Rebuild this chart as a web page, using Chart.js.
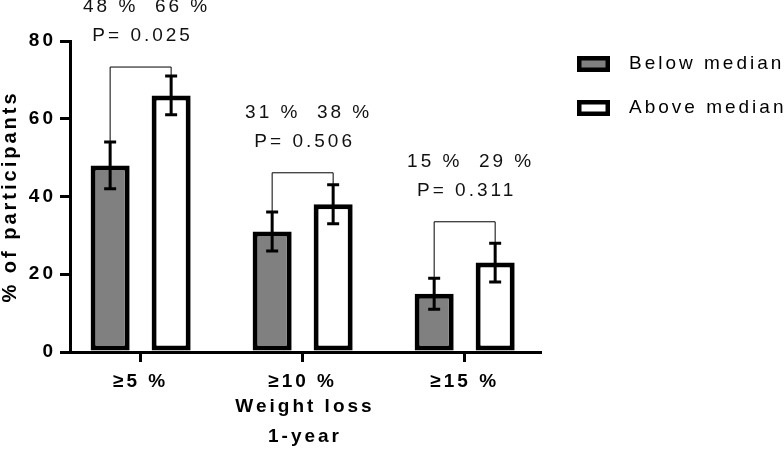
<!DOCTYPE html>
<html>
<head>
<meta charset="utf-8">
<script src="https://cdn.jsdelivr.net/npm/chart.js@4/dist/chart.umd.min.js"></script>
<style>
  html, body { margin: 0; padding: 0; background: #fff; }
  #wrap { width: 784px; height: 475px; }
</style>
</head>
<body>
<div id="wrap"><canvas id="chart"></canvas></div>
<script>
// ===== Data =====
const categories = ['\u22655 %', '\u226510 %', '\u226515 %'];
const seriesNames = ['Below median', 'Above median'];
const belowValues = [48, 31, 15];
const belowLow = [42, 26, 11];
const belowHigh = [54, 36, 19];
const aboveValues = [66, 38, 23];
const aboveLow = [61, 33, 18];
const aboveHigh = [71, 43, 28];
const belowPct = [48, 31, 15];
const abovePct = [66, 38, 29];
const pValues = ['0.025', '0.506', '0.311'];
const bracketLevel = [73.3, 46.1, 33.5];
const yTicks = [0, 20, 40, 60, 80];

const FONT = "'Liberation Sans', Arial, Helvetica, sans-serif";
const SPACING = '3px';

// ===== Letter spacing (canvas state resets on resize) =====
const spacing = {
    id: 'spacing',
    beforeUpdate(c) { c.ctx.letterSpacing = SPACING; },
    beforeDraw(c) { c.ctx.letterSpacing = SPACING; }
};

// ===== Error bars, brackets, p-values, legend =====
const extras = {
    id: 'extras',
    afterDatasetsDraw(c) {
        const ctx = c.ctx, y = c.scales.y, x = c.scales.x;
        const lows = [belowLow, aboveLow], highs = [belowHigh, aboveHigh];
        ctx.save();
        ctx.strokeStyle = '#000';
        ctx.lineWidth = 3;
        [0, 1].forEach(d => {
            c.getDatasetMeta(d).data.forEach((bar, i) => {
                const bx = bar.x;
                const top = y.getPixelForValue(highs[d][i]);
                const bot = y.getPixelForValue(lows[d][i]);
                ctx.beginPath();
                ctx.moveTo(bx, top); ctx.lineTo(bx, bot);
                ctx.moveTo(bx - 6, top); ctx.lineTo(bx + 6, top);
                ctx.moveTo(bx - 6, bot); ctx.lineTo(bx + 6, bot);
                ctx.stroke();
            });
        });

        const m0 = c.getDatasetMeta(0).data, m1 = c.getDatasetMeta(1).data;
        ctx.lineWidth = 1;
        ctx.fillStyle = '#111';
        ctx.font = '19px ' + FONT;
        ctx.textAlign = 'center';
        ctx.textBaseline = 'middle';
        ctx.letterSpacing = SPACING;
        categories.forEach((cat, i) => {
            const by = y.getPixelForValue(bracketLevel[i]);
            const x0 = m0[i].x, x1 = m1[i].x;
            ctx.beginPath();
            ctx.moveTo(x0, y.getPixelForValue(belowHigh[i]));
            ctx.lineTo(x0, by);
            ctx.lineTo(x1, by);
            ctx.lineTo(x1, y.getPixelForValue(aboveHigh[i]));
            ctx.stroke();
            const cx = x.getPixelForValue(i + 1);
            ctx.fillText(belowPct[i] + ' %  ' + abovePct[i] + ' %', cx + 6, by - 60);
            ctx.fillText('P= ' + pValues[i], cx + 2, by - 31);
        });

        // legend
        ctx.textAlign = 'left';
        seriesNames.forEach((name, d) => {
            const ly = 64 + d * 44;
            ctx.fillStyle = '#000';
            ctx.fillRect(577, ly - 8, 33, 16);
            ctx.fillStyle = c.data.datasets[d].backgroundColor;
            ctx.fillRect(581.5, ly - 3.5, 24, 7);
            ctx.fillStyle = '#000';
            ctx.fillText(name, 629, ly);
        });
        ctx.restore();
    }
};

// ===== Chart =====
const chart = new Chart(document.getElementById('chart'), {
    type: 'bar',
    data: {
        datasets: [
            {
                label: seriesNames[0],
                data: belowValues.map((v, i) => ({x: i + 1, y: v})),
                backgroundColor: '#808080',
                borderColor: '#000',
                borderWidth: 5,
                borderSkipped: false
            },
            {
                label: seriesNames[1],
                data: aboveValues.map((v, i) => ({x: i + 1, y: v})),
                backgroundColor: '#ffffff',
                borderColor: '#000',
                borderWidth: 5,
                borderSkipped: false
            }
        ]
    },
    options: {
        responsive: true,
        maintainAspectRatio: false,
        animation: false,
        layout: {padding: {top: 41, right: 244, left: 0, bottom: 0}},
        datasets: {bar: {categoryPercentage: 0.753, barPercentage: 0.64}},
        plugins: {legend: {display: false}, tooltip: {enabled: false}},
        scales: {
            x: {
                type: 'linear', min: 0.564, max: 3.465, offset: false,
                afterBuildTicks: s => { s.ticks = categories.map((c, i) => ({value: i + 1})); },
                afterFit: s => { s.height = 123; },
                grid: {drawOnChartArea: false, offset: false, color: '#000', lineWidth: 3, tickLength: 10},
                border: {color: '#000', width: 3},
                ticks: {
                    callback: (v, i) => categories[i],
                    font: {size: 19, weight: 'bold', family: FONT},
                    color: '#000', padding: 8, autoSkip: false, maxRotation: 0
                },
                title: {
                    display: true, text: ['Weight loss', '1-year'], color: '#000',
                    font: {size: 19, weight: 'bold', family: FONT, lineHeight: '30px'},
                    padding: {top: 0, bottom: 23}
                }
            },
            y: {
                min: 0, max: 80,
                afterBuildTicks: s => { s.ticks = yTicks.map(v => ({value: v})); },
                afterFit: s => { s.width = 70; },
                grid: {drawOnChartArea: false, color: '#000', lineWidth: 3, tickLength: 10},
                border: {color: '#000', width: 3},
                ticks: {font: {size: 19, weight: 'bold', family: FONT}, color: '#000', padding: 4},
                title: {
                    display: true, text: '% of participants', color: '#000',
                    font: {size: 20, weight: 'bold', family: FONT, lineHeight: 1},
                    padding: {top: 0, bottom: 0}
                }
            }
        }
    },
    plugins: [spacing, extras]
});
</script>
</body>
</html>
